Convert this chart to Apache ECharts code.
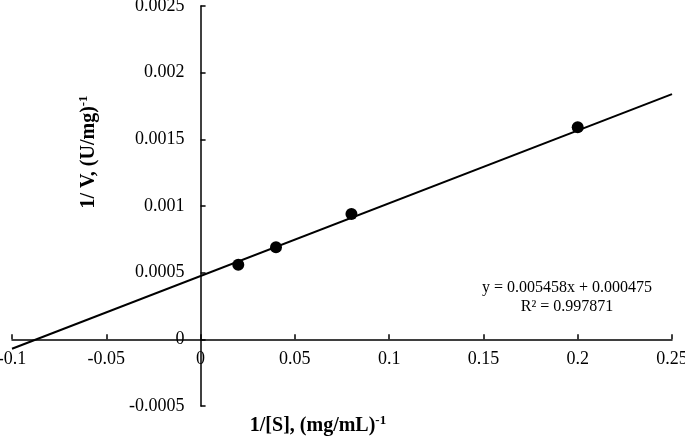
<!DOCTYPE html>
<html>
<head>
<meta charset="utf-8">
<script src="https://cdn.jsdelivr.net/npm/echarts@6/dist/echarts.min.js"></script>
<style>
  html, body { margin: 0; padding: 0; background: #fff; }
  #chart { width: 685px; height: 443px; }
</style>
</head>
<body>
<div id="chart"></div>
<script>
// measured points (1/[S], 1/V)
var pointsX = [0.02, 0.04, 0.08, 0.2];
var pointsY = [0.00056, 0.00069, 0.00094, 0.00159];

// trend line ends (y = 0.005458x + 0.000475)
var trendX = [-0.1, 0.25];
var trendY = [-0.0000708, 0.0018395];

var xTicks = { min: -0.1, max: 0.25, step: 0.05 };
var yTicks = { min: -0.0005, max: 0.0025, step: 0.0005 };

var eqLine1 = 'y = 0.005458x + 0.000475';
var eqLine2 = 'R² = 0.997871';

var font = 'Liberation Serif';

// plot area
var W = 685, H = 443;
var gLeft = 12, gRight = 13, gTop = 6, gBottom = 37;
var gW = W - gLeft - gRight, gH = H - gTop - gBottom;

function pairs(xs, ys) {
  var out = [];
  for (var i = 0; i < xs.length; i++) out.push([xs[i], ys[i]]);
  return out;
}
function fmt(v) {
  return String(parseFloat(v.toFixed(6)));
}

// axes cross at zero: shift each axis (with its labels) to the other's zero
var xAxisOffset = -(0 - yTicks.min) / (yTicks.max - yTicks.min) * gH;
var yAxisOffset = -(0 - xTicks.min) / (xTicks.max - xTicks.min) * gW;

var chart = echarts.init(document.getElementById('chart'));

var option = {
  animation: false,
  backgroundColor: '#fff',
  grid: { left: gLeft, right: gRight, top: gTop, bottom: gBottom, containLabel: false, outerBoundsMode: 'none' },
  xAxis: {
    type: 'value',
    min: xTicks.min, max: xTicks.max, interval: xTicks.step,
    offset: xAxisOffset,
    axisLine: { onZero: false, lineStyle: { color: '#000', width: 1.5 } },
    axisTick: { show: true, inside: true, length: 5, lineStyle: { color: '#000', width: 1.5 } },
    axisLabel: { color: '#000', fontFamily: font, fontSize: 18, margin: 11, formatter: fmt },
    splitLine: { show: false }
  },
  yAxis: {
    type: 'value',
    min: yTicks.min, max: yTicks.max, interval: yTicks.step,
    offset: yAxisOffset,
    axisLine: { onZero: false, lineStyle: { color: '#000', width: 1.5 } },
    axisTick: { show: true, inside: true, length: 5, lineStyle: { color: '#000', width: 1.5 } },
    axisLabel: { color: '#000', fontFamily: font, fontSize: 18, margin: 16, formatter: fmt },
    splitLine: { show: false }
  },
  series: [
    {
      type: 'line',
      data: pairs(trendX, trendY),
      symbol: 'none',
      lineStyle: { color: '#000', width: 2 },
      z: 2
    },
    {
      type: 'scatter',
      data: pairs(pointsX, pointsY),
      symbol: 'circle',
      symbolSize: 12,
      itemStyle: { color: '#000', opacity: 1 },
      z: 3
    }
  ],
  graphic: [
    {
      type: 'text',
      x: 318, y: 426,
      style: {
        text: '{t|1/[S], (mg/mL)}{s|-1}',
        align: 'center', verticalAlign: 'middle',
        rich: {
          t: { fontFamily: font, fontSize: 20, fontWeight: 'bold', fill: '#000' },
          s: { fontFamily: font, fontSize: 13, fontWeight: 'bold', fill: '#000', padding: [0, 0, 10, 0] }
        }
      }
    },
    {
      type: 'text',
      x: 89, y: 152,
      rotation: Math.PI / 2,
      style: {
        text: '{t|1/ V, (U/mg)}{s|-1}',
        align: 'center', verticalAlign: 'middle',
        rich: {
          t: { fontFamily: font, fontSize: 20, fontWeight: 'bold', fill: '#000' },
          s: { fontFamily: font, fontSize: 13, fontWeight: 'bold', fill: '#000', padding: [0, 0, 10, 0] }
        }
      }
    },
    {
      type: 'text',
      x: 567, y: 288,
      style: { text: eqLine1, align: 'center', verticalAlign: 'middle', fontFamily: font, fontSize: 16, fill: '#000' }
    },
    {
      type: 'text',
      x: 567, y: 307,
      style: { text: eqLine2, align: 'center', verticalAlign: 'middle', fontFamily: font, fontSize: 16, fill: '#000' }
    }
  ]
};

chart.setOption(option);
</script>
</body>
</html>
